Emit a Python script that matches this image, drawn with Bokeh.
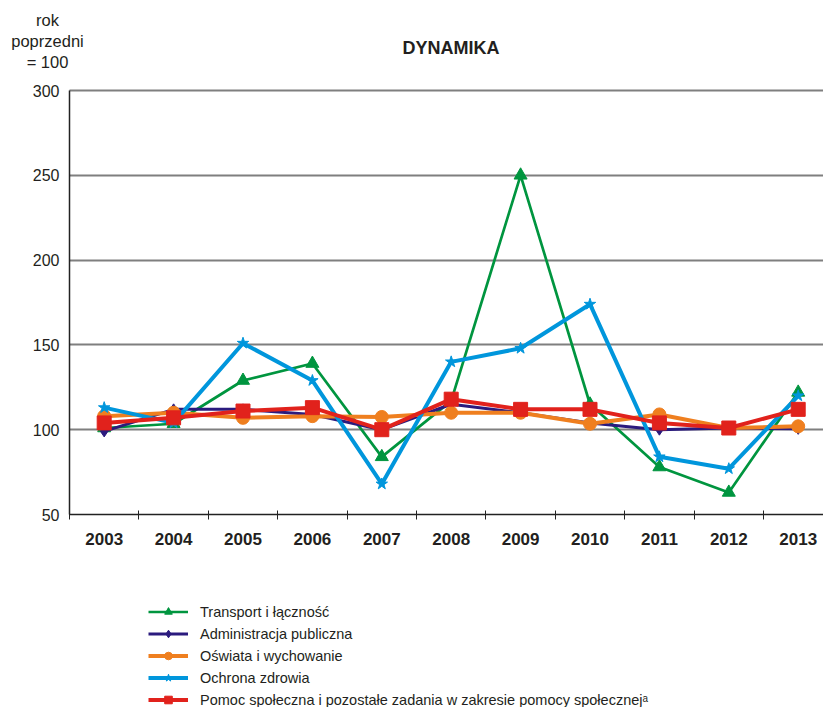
from bokeh.plotting import figure
from bokeh.models import (Range1d, FixedTicker, Legend, LegendItem, ColumnDataSource, Label,
                          Grid, BoxAnnotation)
from bokeh.embed import file_html
from bokeh.resources import INLINE

years = ["2003", "2004", "2005", "2006", "2007", "2008", "2009", "2010", "2011", "2012", "2013"]
transport = [101, 103.5, 129, 139, 84, 117, 250, 115, 78, 63, 122]
administracja = [99, 112, 112, 109, 100, 115, 110, 104, 100, 101, 100.5]
oswiata = [108, 110, 107, 108, 107.5, 110, 110, 103.5, 109, 101, 102]
zdrowie = [113, 104, 151, 129, 68, 140, 148, 174, 84, 77, 120]
pomoc = [104, 107, 111, 113, 100, 118, 112, 112, 104, 101, 112]
y_ticks = [50, 100, 150, 200, 250, 300]

names = ["Transport i łączność", "Administracja publiczna", "Oświata i wychowanie",
         "Ochrona zdrowia", "Pomoc społeczna i pozostałe zadania w zakresie pomocy społecznej\u1d43"]
colors = ["#00953f", "#2b1b7e", "#ef7f1f", "#0096dc", "#e1221c"]
markers = ["triangle", "diamond", "circle", "star", "square"]
msizes = [13, 11, 13, 12, 14]
lwidths = [2.7, 3, 4, 4, 4]
series = [transport, administracja, oswiata, zdrowie, pomoc]

xs = [i + 0.5 for i in range(len(years))]

W, H = 823, 707
TXT = "#231f20"
FONT = "Liberation Sans"

# pixel geometry of the plotting area (used only to size the ranges / place texts)
X0_PX, Y_TOP_PX, Y_BOT_PX = 69, 90, 514
PX_PER_X = 69.4
PX_PER_Y = (Y_BOT_PX - Y_TOP_PX) / (y_ticks[-1] - y_ticks[0])


def dx(px):
    return (px - X0_PX) / PX_PER_X


def dy(py):
    return y_ticks[-1] - (py - Y_TOP_PX) / PX_PER_Y


p = figure(width=W, height=H, output_backend="svg", toolbar_location=None,
           x_range=Range1d(dx(0), dx(W)), y_range=Range1d(dy(H), dy(0)),
           min_border=0, min_border_left=0, min_border_right=0,
           min_border_top=0, min_border_bottom=0)
p.outline_line_color = None

# x axis
p.xaxis.fixed_location = y_ticks[0]
p.xaxis.bounds = (0, dx(W))
p.xaxis.ticker = FixedTicker(ticks=xs, minor_ticks=list(range(len(years) + 1)))
p.xaxis.major_label_overrides = {x: y for x, y in zip(xs, years)}
p.xaxis.major_tick_line_color = None
p.xaxis.major_tick_out = 0
p.xaxis.major_tick_in = 0
p.xaxis.minor_tick_in = 4
p.xaxis.minor_tick_out = 5
p.xaxis.minor_tick_line_color = "#222222"
p.xaxis.axis_line_color = "#222222"
p.xaxis.axis_line_width = 1.5
p.xaxis.major_label_text_font = FONT
p.xaxis.major_label_text_font_style = "bold"
p.xaxis.major_label_text_font_size = "17px"
p.xaxis.major_label_text_color = TXT
p.xaxis.major_label_standoff = 13

# y axis
p.yaxis.fixed_location = 0
p.yaxis.bounds = (y_ticks[0], y_ticks[-1])
p.yaxis.ticker = FixedTicker(ticks=y_ticks)
p.yaxis.major_tick_line_color = None
p.yaxis.major_tick_out = 0
p.yaxis.major_tick_in = 0
p.yaxis.minor_tick_line_color = None
p.yaxis.axis_line_color = "#222222"
p.yaxis.axis_line_width = 1.5
p.yaxis.major_label_text_font = FONT
p.yaxis.major_label_text_font_size = "16px"
p.yaxis.major_label_text_color = TXT
p.yaxis.major_label_standoff = 10

# grid
p.xgrid.grid_line_color = None
p.ygrid.ticker = FixedTicker(ticks=y_ticks[1:])
p.ygrid.grid_line_color = "#7f7f7f"
p.ygrid.grid_line_width = 2
if "cross_bounds" in Grid.properties():
    p.ygrid.cross_bounds = (0, dx(W))
else:
    p.add_layout(BoxAnnotation(right=0, fill_color="white", fill_alpha=1, line_alpha=0,
                               level="glyph"))

items = []
for name, col, mk, ms, lw, vals in zip(names, colors, markers, msizes, lwidths, series):
    src = ColumnDataSource(dict(x=xs, y=vals))
    l = p.line("x", "y", source=src, line_color=col, line_width=lw)
    s = p.scatter("x", "y", source=src, marker=mk, size=ms, fill_color=col, line_color=col)
    items.append(LegendItem(label=name, renderers=[l, s]))

legend = Legend(items=items, location=(148, -2), orientation="vertical",
                border_line_color=None, background_fill_alpha=0, padding=0, margin=0,
                glyph_width=40, glyph_height=19, label_height=19, spacing=3,
                label_standoff=12, label_text_font=FONT,
                label_text_font_size="14.5px", label_text_color=TXT)
p.add_layout(legend, "center")

for txt, py in [("rok", 19), ("poprzedni", 40), ("= 100", 61)]:
    p.add_layout(Label(x=dx(47), y=dy(py), text=txt, text_align="center", text_baseline="middle",
                       text_font=FONT, text_font_size="16.5px", text_color=TXT))
p.add_layout(Label(x=dx(450.5), y=dy(47.5), text="DYNAMIKA", text_align="center",
                   text_baseline="middle", text_font=FONT, text_font_style="bold",
                   text_font_size="18px", text_color=TXT))

open("out.html", "w").write(file_html(p, INLINE))
